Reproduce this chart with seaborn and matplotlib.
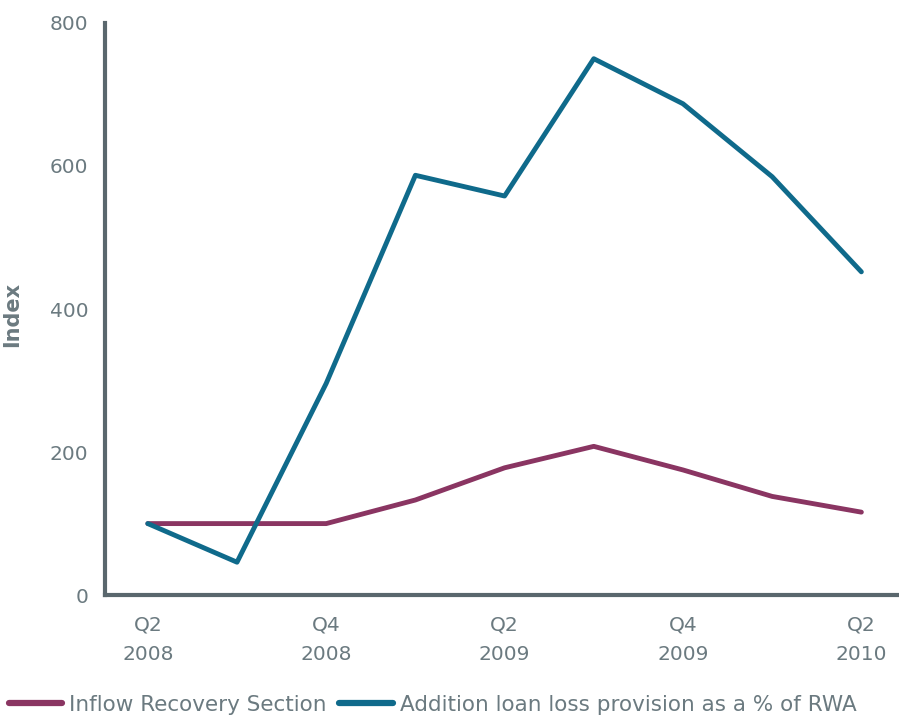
import matplotlib
matplotlib.use("Agg")
import matplotlib.pyplot as plt
import seaborn as sns
import pandas as pd

quarters = ["Q2\n2008", "Q3\n2008", "Q4\n2008", "Q1\n2009", "Q2\n2009",
            "Q3\n2009", "Q4\n2009", "Q1\n2010", "Q2\n2010"]
inflow_recovery = [100, 100, 100, 133, 178, 208, 175, 138, 116]
loan_loss_provision = [100, 46, 296, 587, 558, 750, 687, 585, 452]

series_names = ["Inflow Recovery Section", "Addition loan loss provision as a % of RWA"]
colors = ["#8a3562", "#0f6a8b"]

rows = []
for name, vals in zip(series_names, [inflow_recovery, loan_loss_provision]):
    for i, v in enumerate(vals):
        rows.append({"pos": i, "value": v, "series": name})
df = pd.DataFrame(rows)

sns.set_style("white")
plt.rcParams["font.family"] = ["DejaVu Sans"]
text_color = "#6b7a80"
axis_color = "#5a676d"

fig = plt.figure(figsize=(8.99, 7.17), dpi=100)
ax = fig.add_axes([0.1168, 0.170, 0.883, 0.798])

sns.lineplot(data=df, x="pos", y="value", hue="series", hue_order=series_names,
             palette=colors, linewidth=3.5, ax=ax, legend=False)

ax.set_xlim(-0.48, 8.42)
ax.set_ylim(0, 800)
ax.set_yticks([0, 200, 400, 600, 800])
ax.set_yticklabels(["0", "200", "400", "600", "800"])
ax.set_xticks(range(0, 9, 2))
ax.set_xticklabels([quarters[i] for i in range(0, 9, 2)], linespacing=1.65)
ax.tick_params(axis="both", length=0, labelsize=14.5, labelcolor=text_color)
ax.tick_params(axis="y", pad=12)
ax.tick_params(axis="x", pad=15)
ax.set_xlabel("")
ax.set_ylabel("Index", fontsize=15, fontweight="bold", color=text_color)
ax.yaxis.set_label_coords(-0.104, 0.49)

for side in ["top", "right"]:
    ax.spines[side].set_visible(False)
for side in ["left", "bottom"]:
    ax.spines[side].set_color(axis_color)
    ax.spines[side].set_linewidth(3)

handles = [plt.Line2D([], [], color=c, linewidth=4.5) for c in colors]
fig.legend(handles, series_names, loc="lower left", bbox_to_anchor=(-0.012, -0.024),
           ncol=2, frameon=False, fontsize=15.5, labelcolor=text_color,
           handlelength=2.5, handletextpad=0.3, columnspacing=0.6)

fig.savefig("out.png", dpi=100)
